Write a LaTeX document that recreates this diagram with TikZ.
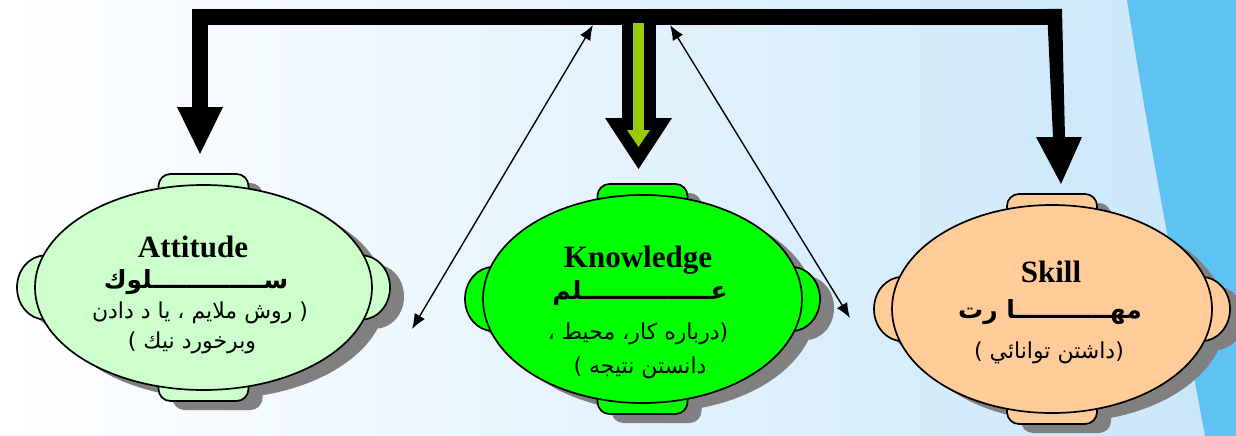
\documentclass[tikz,border=0pt]{standalone}
\usepackage{fontspec}
\setmainfont{Liberation Serif}
\newfontfamily\arabicfont[Script=Arabic]{DejaVu Sans}
\TeXXeTstate=1
\usetikzlibrary{shapes.geometric,arrows.meta}
\definecolor{bgL}{HTML}{FFFFFF}
\definecolor{bgR}{HTML}{C8E6FA}
\definecolor{swoosh}{HTML}{5EC3F2}
\definecolor{shadowgray}{HTML}{808080}
\definecolor{attfill}{HTML}{CCFFCC}
\definecolor{knowfill}{HTML}{00FF00}
\definecolor{skillfill}{HTML}{FFCC99}
\definecolor{arrowgreen}{HTML}{99CC00}
\tikzset{
  outline/.style={draw=black, line width=1.7pt},
  latin/.style={font=\fontsize{31}{36}\selectfont\bfseries, anchor=base, inner sep=0pt},
  arb/.style={font=\arabicfont\fontsize{25}{30}\selectfont\bfseries, inner sep=0pt},
  arr/.style={font=\arabicfont\fontsize{22}{26}\selectfont, inner sep=0pt},
  thinarrow/.style={line width=1.4pt, {Latex[length=15pt,width=12pt]}-{Latex[length=15pt,width=12pt]}},
  blockarrow/.style={fill=black},
}
% #1 name, #2 cx, #3 cy, #4 rx, #5 ry, #6 fill colour
\newcommand\MyBlob[6]{%
  \begin{scope}[shift={(#2,#3)}]
    \begin{scope}[shift={(14,9)}]
      \fill[shadowgray] (-#4+10,0) ellipse [x radius=28pt, y radius=32pt];
      \fill[shadowgray] (#4-10,0) ellipse [x radius=28pt, y radius=32pt];
      \fill[shadowgray, rounded corners=12pt] (-45,-#5-11) rectangle (45,-#5+22);
      \fill[shadowgray, rounded corners=12pt] (-45,#5+11) rectangle (45,#5-22);
      \fill[shadowgray] (0,0) ellipse [x radius=#4pt, y radius=#5pt];
    \end{scope}
    \draw[outline, fill=#6] (-#4+10,0) ellipse [x radius=28pt, y radius=32pt];
    \draw[outline, fill=#6] (#4-10,0) ellipse [x radius=28pt, y radius=32pt];
    \draw[outline, fill=#6, rounded corners=12pt] (-45,-#5-11) rectangle (45,-#5+22);
    \draw[outline, fill=#6, rounded corners=12pt] (-45,#5+11) rectangle (45,#5-22);
    \node[ellipse, outline, fill=#6, inner sep=0pt, minimum width={#4*2pt}, minimum height={#5*2pt}] (#1) at (0,0) {};
  \end{scope}}
\begin{document}
\begin{tikzpicture}[x=1pt,y=-1pt]
\useasboundingbox (0,0) rectangle (1236,436);
% background
\shade[left color=bgL, right color=bgR] (0,0) rectangle (1236,436);
\fill[swoosh] (1127,0) .. controls (1150,150) and (1180,300) .. (1205,436) -- (1236,436) -- (1236,0) -- cycle;

% blobs
\MyBlob{att}{203.5}{287.5}{168.5}{102.5}{attfill}
\MyBlob{know}{642.5}{299}{159.5}{104}{knowfill}
\MyBlob{skill}{1052}{309}{160}{104}{skillfill}

% texts
\node[latin] (att-en) at (193,257) {Attitude};
\node[arb] (att-ar) at (196,282) {\beginR ســـــــــــــلوك\endR};
\node[arr] (att-l1) at (200,313) {\beginR ( روش ملايم ، يا د دادن\endR};
\node[arr] (att-l2) at (192,343) {\beginR وبرخورد نيك )\endR};

\node[latin] (know-en) at (638,267) {Knowledge};
\node[arb] (know-ar) at (640,293) {\beginR عـــــــــــــــلم\endR};
\node[arr] (know-l1) at (638,334) {\beginR (درباره كار، محيط ،\endR};
\node[arr] (know-l2) at (640,368) {\beginR دانستن نتيجه  )\endR};

\node[latin] (skill-en) at (1051,282) {Skill};
\node[arb] (skill-ar) at (1050,312) {\beginR مهـــــــــــا رت\endR};
\node[arr] (skill-l1) at (1049,353) {\beginR (داشتن توانائي )\endR};

% block arrows
\fill[blockarrow] (192,9) rectangle (1062,25);
\fill[blockarrow] (192,9) rectangle (208,108);
\coordinate (attIn) at (200,154);
\fill[blockarrow] (177,107) -- (223,107) -- (attIn) -- cycle;
\fill[blockarrow] (622,24) rectangle (656,119);
\coordinate (knowIn) at (638.5,169);
\fill[blockarrow] (605,118) -- (672,118) -- (knowIn) -- cycle;
\fill[arrowgreen] (633,23) rectangle (644,131);
\fill[arrowgreen] (627,130) -- (650,130) -- (638.5,147) -- cycle;
\fill[blockarrow] (1047,9) -- (1062,9) -- (1065,138) -- (1053,138) -- cycle;
\coordinate (skillIn) at (1061,184);
\fill[blockarrow] (1036,137) -- (1082,137) -- (skillIn) -- cycle;

% thin double arrows
\coordinate (attR) at (412,329);
\coordinate (barL) at (593,25);
\coordinate (barR) at (670,25);
\coordinate (skillL) at (850,318);
\draw[thinarrow] (attR) -- (barL);
\draw[thinarrow] (barR) -- (skillL);
\end{tikzpicture}
\end{document}
